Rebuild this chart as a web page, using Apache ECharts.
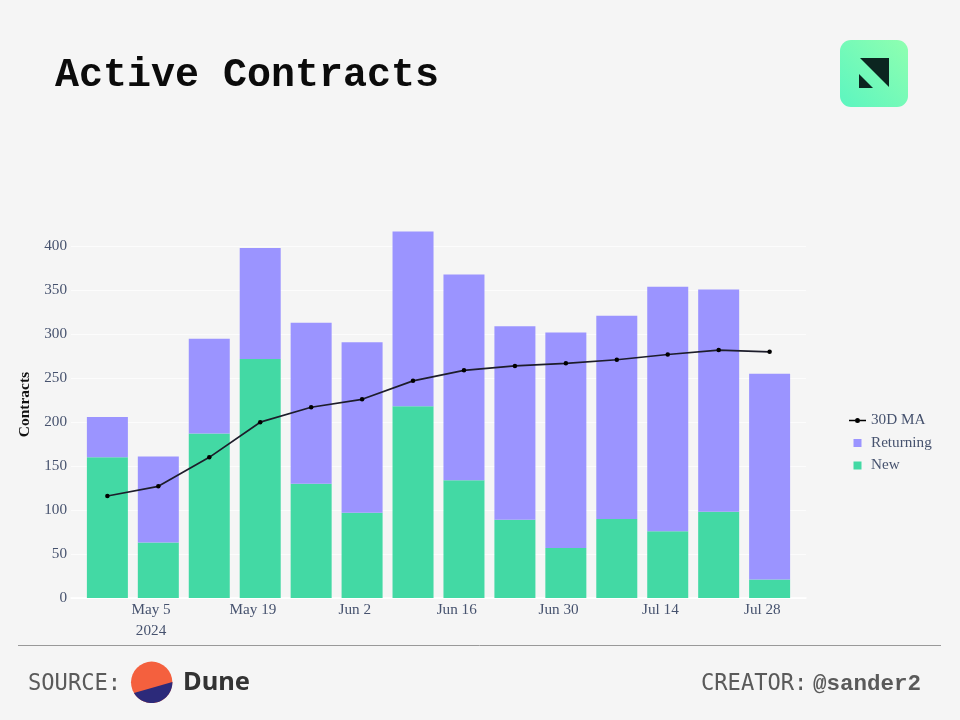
<!DOCTYPE html>
<html><head><meta charset="utf-8">
<style>html,body{margin:0;padding:0;background:#f5f5f5}#c{width:960px;height:720px}</style>
<script src="https://cdn.jsdelivr.net/npm/echarts@6/dist/echarts.min.js"></script>
</head><body><div id="c"></div>
<script>
const weeks = ['2024-04-29','2024-05-06','2024-05-13','2024-05-20','2024-05-27','2024-06-03','2024-06-10','2024-06-17','2024-06-24','2024-07-01','2024-07-08','2024-07-15','2024-07-22','2024-07-29'];
const newContracts = [160,63,187,272,130,97,218,134,89,57,90,76,98,21];
const returning = [46,98,108,126,183,194,199,234,220,245,231,278,253,234];
const ma30 = [116,127,160,200,217,226,247,259,264,267,271,277,282,280];
const tickDates = ['2024-05-05','2024-05-19','2024-06-02','2024-06-16','2024-06-30','2024-07-14','2024-07-28'];
const tickLabels = ['May 5\n2024','May 19','Jun 2','Jun 16','Jun 30','Jul 14','Jul 28'];

// Daily category axis, 24 Apr to 3 Aug 2024, so weekly bars and fortnightly ticks sit on their true dates.
const days = [];
for (let t = Date.UTC(2024,3,24); t <= Date.UTC(2024,7,3); t += 864e5) days.push(new Date(t).toISOString().slice(0,10));
const pair = arr => arr.map((v,i)=>[weeks[i],v]);
const serif = '"Liberation Serif","Times New Roman",serif';
const mono = '"Liberation Mono","DejaVu Sans Mono",monospace';
const sansMono = '"DejaVu Sans Mono","Liberation Mono",monospace';
const labelColor = '#46526e';

// Dune logo's lower segment, traced along the circle edge.
const duneSeg = [];
for (let a = -1; a <= 149; a += 5) duneSeg.push([151.7 + 20.7*Math.cos(a*Math.PI/180), 682.3 + 20.7*Math.sin(a*Math.PI/180)]);

const chart = echarts.init(document.getElementById('c'), null, {renderer:'canvas', width:960, height:720});
chart.setOption({
  backgroundColor:'#f5f5f5',
  animation:false,
  grid:{left:71, right:154, top:211.2, height:386.8},
  legend:{
    orient:'vertical', left:844, top:408, itemWidth:17, itemHeight:8, itemGap:7.5,
    textStyle:{fontFamily:serif, fontSize:15.2, color:labelColor},
    data:[
      {name:'30D MA',icon:'path://M0,1.3h6v1.5h-6z M11,1.3h6v1.5h-6z M6,2a2.5,2.5 0 1 1 5,0a2.5,2.5 0 1 1 -5,0z'},
      {name:'Returning',icon:'path://M0,0h8v8h-8z'},
      {name:'New',icon:'path://M0,0h8v8h-8z'}
    ]
  },
  xAxis:{
    type:'category', data:days, boundaryGap:false,
    axisLine:{show:true,lineStyle:{color:'#ffffff',width:1.5}}, axisTick:{show:false}, splitLine:{show:false},
    axisLabel:{
      interval:(i,v)=>tickDates.includes(v), margin:2, hideOverlap:false,
      fontFamily:serif, fontSize:15.2, color:labelColor, lineHeight:20.5,
      formatter:v=>tickLabels[tickDates.indexOf(v)] ?? ''
    }
  },
  yAxis:{
    type:'value', min:0, max:440, interval:50,
    name:'Contracts', nameLocation:'middle', nameGap:37, nameRotate:90,
    nameTextStyle:{fontFamily:serif, fontSize:15.5, fontWeight:'bold', color:'#111'},
    axisLine:{show:false}, axisTick:{show:false},
    axisLabel:{fontFamily:serif, fontSize:15.2, color:labelColor, margin:4, showMaxLabel:false},
    splitLine:{show:true, showMaxLine:false, lineStyle:{color:'#fcfcfc',width:1}}
  },
  series:[
    {name:'New',type:'bar',stack:'a',barWidth:41,data:pair(newContracts),itemStyle:{color:'#43d9a4'},z:2},
    {name:'Returning',type:'bar',stack:'a',barWidth:41,data:pair(returning),itemStyle:{color:'#9b94ff'},z:2},
    {name:'30D MA',type:'line',data:pair(ma30),symbol:'circle',symbolSize:4.5,smooth:false,
      lineStyle:{color:'#1d1d2b',width:1.7},itemStyle:{color:'#000'},z:5}
  ],
  graphic:[
    {type:'text',left:55,top:56,style:{text:'Active Contracts',font:'bold 40px '+mono,fill:'#0b0b0b'}},
    {type:'rect',shape:{x:840,y:40,width:68,height:67,r:11},style:{fill:new echarts.graphic.LinearGradient(0,1,1,0,[{offset:0,color:'#5cf5c0'},{offset:1,color:'#8fffb0'}])}},
    {type:'polygon',shape:{points:[[860,58],[889,58],[889,87]]},style:{fill:'#0b2520'}},
    {type:'polygon',shape:{points:[[859,74],[873,88],[859,88]]},style:{fill:'#0b2520'}},
    {type:'line',shape:{x1:18,y1:645.5,x2:941,y2:645.5},style:{stroke:'#999',lineWidth:1}},
    {type:'text',left:28,top:673,style:{text:'SOURCE:',font:'22.1px '+sansMono,fill:'#5a5a5a'}},
    {type:'circle',shape:{cx:151.7,cy:682.3,r:20.7},style:{fill:'#f4603e'}},
    {type:'polygon',shape:{points:duneSeg},style:{fill:'#2c2a7a'}},
    {type:'text',left:183,top:670,style:{text:'Dune',font:'bold 25.5px "Noto Sans","Liberation Sans",sans-serif',fill:'#333'}},
    {type:'text',left:701,top:673,style:{text:'CREATOR:',font:'22.1px '+sansMono,fill:'#5a5a5a'}},
    {type:'text',left:813,top:673,style:{text:'@sander2',font:'bold 22.5px '+mono,fill:'#5a5a5a'}}
  ]
});
</script></body></html>
